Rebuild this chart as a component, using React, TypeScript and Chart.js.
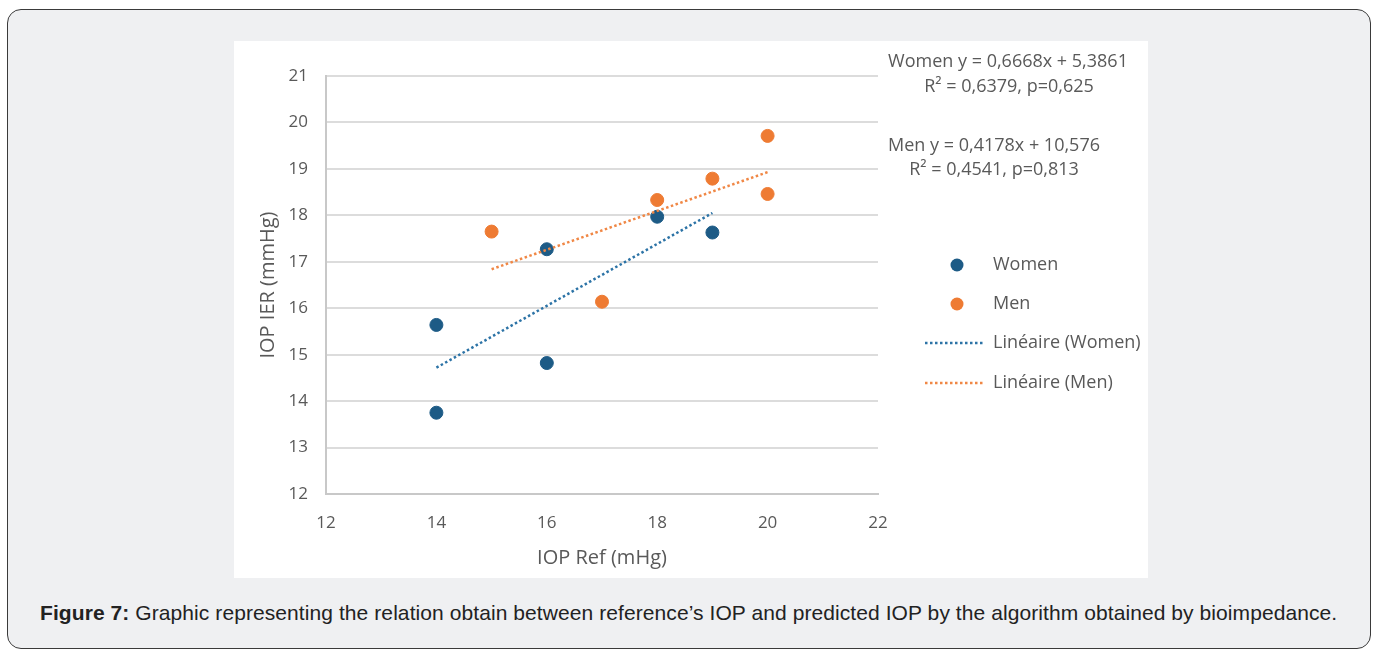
import React, { useEffect, useRef } from "react";
import { Chart, registerables } from "chart.js";

Chart.register(...registerables);

const womenPoints = [
  { x: 14, y: 15.64 },
  { x: 14, y: 13.75 },
  { x: 16, y: 17.27 },
  { x: 16, y: 14.82 },
  { x: 18, y: 17.97 },
  { x: 19, y: 17.63 },
];
const menPoints = [
  { x: 15, y: 17.65 },
  { x: 17, y: 16.14 },
  { x: 18, y: 18.33 },
  { x: 19, y: 18.79 },
  { x: 20, y: 19.71 },
  { x: 20, y: 18.46 },
];
const womenTrend = [
  { x: 14, y: 14.72 },
  { x: 19, y: 18.05 },
];
const menTrend = [
  { x: 15, y: 16.84 },
  { x: 20, y: 18.93 },
];
const legendLabels = ["Women", "Men", "Linéaire (Women)", "Linéaire (Men)"];
const annotationLines = [
  "Women y = 0,6668x + 5,3861",
  "R² = 0,6379, p=0,625",
  "Men y = 0,4178x + 10,576",
  "R² = 0,4541, p=0,813",
];
const xTitle = "IOP Ref (mHg)";
const yTitle = "IOP IER (mmHg)";
const caption = "Graphic representing the relation obtain between reference’s IOP and predicted IOP by the algorithm obtained by bioimpedance.";

const BLUE = "#1d5b86";
const ORANGE = "#ee7b33";
const BLUE_LINE = "#2c73a6";
const ORANGE_LINE = "#f08745";
const TEXT = "#595959";
const FONT = "'Open Sans', 'DejaVu Sans', sans-serif";

const W = 914;
const H = 537;

export default function App() {
  const ref = useRef<HTMLCanvasElement | null>(null);

  useEffect(() => {
    if (!ref.current) return;
    const extras = {
      id: "extras",
      afterDraw(chart: any) {
        const ctx = chart.ctx as CanvasRenderingContext2D;
        ctx.save();
        // legend
        const lx = 723;
        const ys = [224, 263, 302, 342];
        ctx.font = `18px ${FONT}`;
        ctx.fillStyle = TEXT;
        ctx.textBaseline = "middle";
        ctx.textAlign = "left";
        ys.forEach((y, i) => ctx.fillText(legendLabels[i], 759, y));
        ctx.fillStyle = BLUE;
        ctx.beginPath();
        ctx.arc(lx, ys[0], 6.5, 0, Math.PI * 2);
        ctx.fill();
        ctx.fillStyle = ORANGE;
        ctx.beginPath();
        ctx.arc(lx, ys[1], 6.5, 0, Math.PI * 2);
        ctx.fill();
        ctx.lineWidth = 2.5;
        ctx.setLineDash([2.5, 2.5]);
        ctx.strokeStyle = BLUE_LINE;
        ctx.beginPath();
        ctx.moveTo(691, ys[2]);
        ctx.lineTo(751, ys[2]);
        ctx.stroke();
        ctx.strokeStyle = ORANGE_LINE;
        ctx.beginPath();
        ctx.moveTo(691, ys[3]);
        ctx.lineTo(751, ys[3]);
        ctx.stroke();
        ctx.setLineDash([]);
        // annotations
        ctx.fillStyle = TEXT;
        ctx.textAlign = "center";
        ctx.font = `18px ${FONT}`;
        const ax = [774, 775, 760, 760];
        const ay = [21, 46, 105, 129];
        annotationLines.forEach((t, i) => ctx.fillText(t, ax[i], ay[i]));
        ctx.restore();
      },
    };

    const chart = new Chart(ref.current, {
      type: "scatter",
      data: {
        datasets: [
          {
            label: "Linéaire (Women)",
            data: womenTrend,
            showLine: true,
            borderColor: BLUE_LINE,
            borderWidth: 2.5,
            borderDash: [2.5, 2.5],
            pointRadius: 0,
            fill: false,
          } as any,
          {
            label: "Linéaire (Men)",
            data: menTrend,
            showLine: true,
            borderColor: ORANGE_LINE,
            borderWidth: 2.5,
            borderDash: [2.5, 2.5],
            pointRadius: 0,
            fill: false,
          } as any,
          {
            label: "Women",
            data: womenPoints,
            backgroundColor: BLUE,
            borderColor: BLUE,
            pointRadius: 6.5,
          },
          {
            label: "Men",
            data: menPoints,
            backgroundColor: ORANGE,
            borderColor: ORANGE,
            pointRadius: 6.5,
          },
        ],
      },
      options: {
        responsive: false,
        maintainAspectRatio: false,
        animation: false,
        devicePixelRatio: 1,
        layout: { padding: { left: 0, right: 270, top: 35, bottom: 0 } },
        plugins: { legend: { display: false }, tooltip: { enabled: false } },
        scales: {
          x: {
            type: "linear",
            min: 12,
            max: 22,
            afterFit: (s: any) => {
              s.height = 84;
            },
            ticks: { stepSize: 2, color: TEXT, padding: 19, font: { family: FONT, size: 17 } },
            grid: { display: false, drawTicks: false },
            border: { display: true, color: "#c8c8c8", width: 2 },
            title: {
              display: true,
              text: xTitle,
              color: TEXT,
              font: { family: FONT, size: 20 },
              padding: { top: 0, bottom: 8 },
            },
          },
          y: {
            type: "linear",
            min: 12,
            max: 21,
            afterFit: (s: any) => {
              s.width = 92;
            },
            ticks: { stepSize: 1, color: TEXT, padding: 18, font: { family: FONT, size: 17 } },
            grid: { color: "#dcdcdc", lineWidth: 2, drawTicks: false },
            border: { display: true, color: "#c8c8c8", width: 2 },
            title: {
              display: true,
              text: yTitle,
              color: TEXT,
              font: { family: FONT, size: 20 },
              padding: { top: 22, bottom: 0 },
            },
          },
        },
      },
      plugins: [extras],
    } as any);
    return () => chart.destroy();
  }, []);

  return (
    <div
      style={{
        position: "absolute",
        left: 7,
        top: 9,
        width: 1364,
        height: 640,
        boxSizing: "border-box",
        border: "1px solid #3a3a3a",
        borderRadius: 14,
        background: "#eff0f2",
      }}
    >
      <div
        style={{
          position: "absolute",
          left: 226,
          top: 31,
          width: W,
          height: H,
          background: "#ffffff",
        }}
      >
        <canvas ref={ref} width={W} height={H} style={{ width: W, height: H, display: "block" }} />
      </div>
      <div
        style={{
          position: "absolute",
          left: 32,
          top: 591,
          fontFamily: "'Liberation Sans', Arial, sans-serif",
          fontSize: 21,
          letterSpacing: "0.08px",
          color: "#222",
          whiteSpace: "nowrap",
          lineHeight: "24px",
        }}
      >
        <b>Figure 7:</b> {caption}
      </div>
    </div>
  );
}
